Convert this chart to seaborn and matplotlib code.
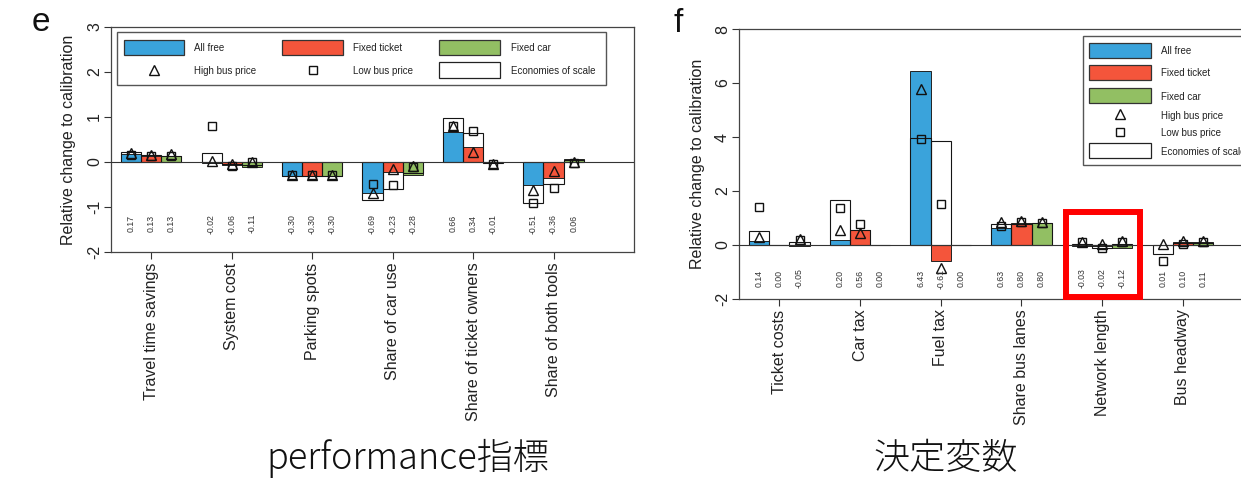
import numpy as np
import pandas as pd
import matplotlib
matplotlib.use("Agg")
import matplotlib.pyplot as plt
import seaborn as sns
from matplotlib.patches import Rectangle
from matplotlib.lines import Line2D

# ---------------- data ----------------
scenarios = ["All free", "Fixed ticket", "Fixed car"]
colors = ["#3AA3DB", "#F4553B", "#92BF63"]

perf_cats = ["Travel time savings", "System cost", "Parking spots",
             "Share of car use", "Share of ticket owners", "Share of both tools"]
perf_all_free = [0.17, -0.02, -0.30, -0.69, 0.66, -0.51]
perf_fixed_ticket = [0.13, -0.06, -0.30, -0.23, 0.34, -0.36]
perf_fixed_car = [0.13, -0.11, -0.30, -0.28, -0.01, 0.06]
perf_econ_all_free = [0.22, 0.20, -0.30, -0.84, 0.98, -0.90]
perf_econ_fixed_ticket = [0.15, -0.05, -0.30, -0.61, 0.64, -0.49]
perf_econ_fixed_car = [0.14, -0.07, -0.30, -0.25, -0.02, 0.04]
perf_high_all_free = [0.20, 0.03, -0.28, -0.69, 0.80, -0.63]
perf_high_fixed_ticket = [0.16, -0.04, -0.28, -0.15, 0.22, -0.21]
perf_high_fixed_car = [0.17, 0.01, -0.28, -0.08, -0.04, 0.00]
perf_low_all_free = [0.15, 0.79, -0.29, -0.48, 0.80, -0.91]
perf_low_fixed_ticket = [0.13, -0.08, -0.29, -0.50, 0.68, -0.58]
perf_low_fixed_car = [0.14, 0.00, -0.29, -0.10, -0.04, -0.02]

dec_cats = ["Ticket costs", "Car tax", "Fuel tax", "Share bus lanes",
            "Network length", "Bus headway"]
dec_all_free = [0.14, 0.20, 6.43, 0.63, -0.03, 0.01]
dec_fixed_ticket = [0.00, 0.56, -0.61, 0.80, -0.02, 0.10]
dec_fixed_car = [-0.05, 0.00, 0.00, 0.80, -0.12, 0.11]
dec_econ_all_free = [0.53, 1.67, 3.95, 0.78, 0.02, -0.32]
dec_econ_fixed_ticket = [0.00, 0.55, 3.85, 0.78, -0.10, 0.07]
dec_econ_fixed_car = [0.12, 0.00, 0.00, 0.80, 0.05, 0.08]
dec_high_all_free = [0.28, 0.54, 5.78, 0.84, 0.10, 0.04]
dec_high_fixed_ticket = [np.nan, 0.44, -0.85, 0.88, 0.04, 0.14]
dec_high_fixed_car = [0.22, np.nan, np.nan, 0.86, 0.16, 0.16]
dec_low_all_free = [1.41, 1.37, 3.93, 0.72, 0.10, -0.60]
dec_low_fixed_ticket = [np.nan, 0.78, 1.52, 0.84, -0.12, 0.04]
dec_low_fixed_car = [0.17, np.nan, np.nan, 0.81, 0.10, 0.10]

perf_yticks = [-2, -1, 0, 1, 2, 3]
dec_yticks = [-2, 0, 2, 4, 6, 8]
ylabel = "Relative change to calibration"

# ---------------- style ----------------
sns.set_theme(style="ticks")
plt.rcParams["font.family"] = ["Liberation Sans", "Noto Sans CJK JP", "DejaVu Sans"]

W, H = 1241, 479
fig = plt.figure(figsize=(W / 100, H / 100), dpi=100)
fig.patch.set_facecolor("white")


def fx(x):
    return x / W


def fy(y):
    return 1 - y / H


axL = fig.add_axes([fx(111), fy(252), (634 - 111) / W, (252 - 27) / H])
axR = fig.add_axes([fx(739), fy(299), (1263.5 - 739) / W, (299 - 29) / H])

TRI_MS, SQ_MS, MEW = 6.6, 5.6, 1.0


def panel(ax, cats, bars, econ, high, low, ylim, yticks, label_y, ylab_x):
    rows = []
    for s, vals, evals in zip(scenarios, bars, econ):
        for c, v, e in zip(cats, vals, evals):
            rows.append({"category": c, "scenario": s, "value": v, "econ": e})
    df = pd.DataFrame(rows)
    sns.barplot(data=df, x="category", y="value", hue="scenario", order=cats,
                hue_order=scenarios, palette=colors, width=0.75, saturation=1,
                edgecolor="#222222", linewidth=0.7, errorbar=None, legend=False,
                ax=ax, zorder=2)
    sns.barplot(data=df, x="category", y="econ", hue="scenario", order=cats,
                hue_order=scenarios, palette=["#151515"] * 3, width=0.75,
                fill=False, linewidth=0.8, errorbar=None, legend=False,
                ax=ax, zorder=3)
    centers = []
    for cont in ax.containers[:3]:
        centers.append([p.get_x() + p.get_width() / 2 for p in cont])
    ax.axhline(0, color="#333333", lw=0.8, zorder=4)
    for j in range(3):
        xs = centers[j]
        ax.plot(xs, high[j], ls="none", marker="^", ms=TRI_MS, mfc="none",
                mec="#111111", mew=MEW, zorder=5)
        ax.plot(xs, low[j], ls="none", marker="s", ms=SQ_MS, mfc="none",
                mec="#111111", mew=MEW, zorder=5)
        for x, v in zip(xs, bars[j]):
            ax.text(x, label_y, f"{v:.2f}", rotation=90, ha="center",
                    va="center", fontsize=6.3, color="#333333", zorder=6)
    ax.set_xlim(-0.5, 6.0)
    ax.set_ylim(*ylim)
    ax.set_yticks(yticks)
    ax.set_yticklabels([str(t) for t in yticks])
    ax.set_xticks(range(len(cats)))
    ax.set_xticklabels(cats, rotation=90)
    ax.set_xlabel("")
    ax.set_ylabel("")
    ax.tick_params(axis="both", direction="out", length=5, width=0.8,
                   color="#333333", labelsize=11.5, labelcolor="#222222",
                   bottom=True, left=True)
    ax.tick_params(axis="x", pad=2.5)
    ax.tick_params(axis="y", pad=1.4, labelrotation=90)
    for lab in ax.get_yticklabels():
        lab.set_va("center")
    for sp in ax.spines.values():
        sp.set_visible(True)
        sp.set_color("#444444")
        sp.set_linewidth(0.9)
    ax.set_facecolor("white")
    ax.text(ylab_x, 0.5, ylabel, transform=ax.transAxes, rotation=90,
            ha="center", va="center", fontsize=11.5, color="#222222")


panel(axL, perf_cats,
      [perf_all_free, perf_fixed_ticket, perf_fixed_car],
      [perf_econ_all_free, perf_econ_fixed_ticket, perf_econ_fixed_car],
      [perf_high_all_free, perf_high_fixed_ticket, perf_high_fixed_car],
      [perf_low_all_free, perf_low_fixed_ticket, perf_low_fixed_car],
      (-2, 3), perf_yticks, -1.37, (68 - 111) / 523)

panel(axR, dec_cats,
      [dec_all_free, dec_fixed_ticket, dec_fixed_car],
      [dec_econ_all_free, dec_econ_fixed_ticket, dec_econ_fixed_car],
      [dec_high_all_free, dec_high_fixed_ticket, dec_high_fixed_car],
      [dec_low_all_free, dec_low_fixed_ticket, dec_low_fixed_car],
      (-2, 8), dec_yticks, -1.24, (697 - 739) / 524.5)


# ---------------- legends (drawn in pixel layout) ----------------
def lg_rect(x0, y0, x1, y1, fc, ec, lw=0.9):
    fig.add_artist(Rectangle((fx(x0), fy(y1)), (x1 - x0) / W, (y1 - y0) / H,
                             transform=fig.transFigure, fc=fc, ec=ec, lw=lw))


def lg_marker(x, y, m, ms):
    fig.add_artist(Line2D([fx(x)], [fy(y)], transform=fig.transFigure,
                          marker=m, ms=ms, mfc="none", mec="#111111",
                          mew=MEW, ls="none"))


def lg_text(x, y, s):
    fig.text(fx(x), fy(y), s, ha="left", va="center", fontsize=7,
             color="#222222")


# left legend
lg_rect(117, 32, 606, 85, "white", "#555555", 1.0)
lg_rect(124, 40, 184, 55, colors[0], "#333333")
lg_text(194, 48, scenarios[0])
lg_rect(282, 40, 343, 55, colors[1], "#333333")
lg_text(353, 48, scenarios[1])
lg_rect(439, 40, 500, 55, colors[2], "#333333")
lg_text(511, 48, scenarios[2])
lg_marker(154, 70, "^", TRI_MS)
lg_text(194, 71, "High bus price")
lg_marker(313, 70, "s", SQ_MS)
lg_text(353, 71, "Low bus price")
lg_rect(439, 62, 500, 78, "white", "#222222")
lg_text(511, 71, "Economies of scale")

# right legend (cut off by the figure edge, as in the reference)
lg_rect(1083, 36, 1262, 165, "white", "#555555", 1.0)
lg_rect(1089, 43, 1151, 58, colors[0], "#333333")
lg_text(1161, 51, scenarios[0])
lg_rect(1089, 65, 1151, 80, colors[1], "#333333")
lg_text(1161, 73, scenarios[1])
lg_rect(1089, 88, 1151, 103, colors[2], "#333333")
lg_text(1161, 97, scenarios[2])
lg_marker(1120, 114, "^", TRI_MS)
lg_text(1161, 116, "High bus price")
lg_marker(1120, 132, "s", SQ_MS)
lg_text(1161, 132.5, "Low bus price")
lg_rect(1089, 143, 1151, 158, "white", "#222222")
lg_text(1161, 152, "Economies of scale")

# highlight box
fig.add_artist(Rectangle((fx(1066), fy(297)), (1140 - 1066) / W, (297 - 212) / H,
                         transform=fig.transFigure, fill=False, ec="#FF0000",
                         lw=4.3, zorder=10))

# panel letters
fig.text(fx(41), fy(31), "e", ha="center", va="baseline", fontsize=24,
         color="#111111")
fig.text(fx(678), fy(32), "f", ha="center", va="baseline", fontsize=24,
         color="#111111")

# bottom captions
fig.text(fx(408), fy(469), "performance指標", ha="center", va="baseline",
         fontsize=26, fontweight="light",
         family=["Noto Sans CJK JP", "DejaVu Sans"], color="#111111")
fig.text(fx(946), fy(469), "決定変数", ha="center", va="baseline",
         fontsize=26, fontweight="light",
         family=["Noto Sans CJK JP", "DejaVu Sans"], color="#111111")

fig.savefig("out.png", dpi=100)
